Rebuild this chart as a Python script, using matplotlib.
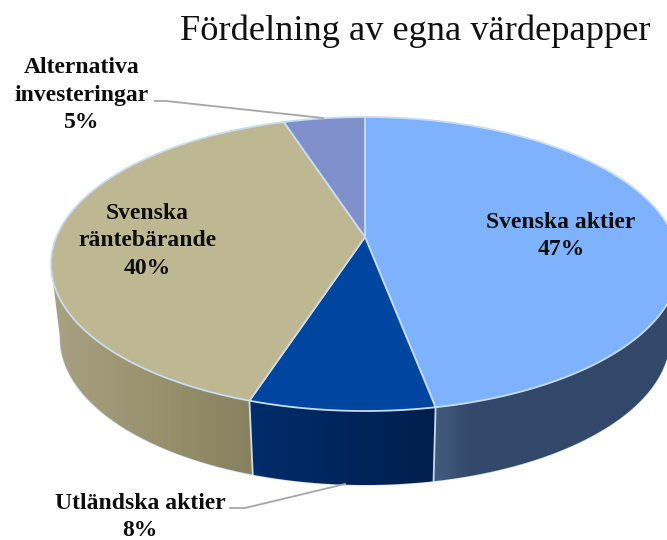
import matplotlib
matplotlib.use('Agg')
import matplotlib.pyplot as plt
import numpy as np
from matplotlib.colors import LinearSegmentedColormap

plt.rcParams['font.family'] = ['Liberation Serif', 'DejaVu Serif']

title = 'Fördelning av egna värdepapper'
labels = ['Svenska aktier\n47%', 'Utländska aktier\n8%', 'Svenska\nräntebärande\n40%', 'Alternativa\ninvesteringar\n5%']
values = [47, 8, 40, 5]
top_colors = ['#7eb2fc', '#00459f', '#bdb892', '#8090cc']
wall_left = ['#435c7c', '#002d6b', '#a8a282', None]
wall_mid = ['#33486a', '#00255c', '#98926f', None]
wall_right = ['#33486a', '#001f4d', '#87815f', None]
edge = '#c8dcf2'
persp = 0.1837


def project(angle):
    # angle clockwise from 12 o'clock, flat disc seen in perspective
    u, v = np.sin(angle), np.cos(angle)
    w = 1 + persp * v
    return 365 + 308.7 * u / w, (237 - 98.5 * v) / w


def lower(x, y):
    return 365 + 0.971 * (x - 365), y + 74


fig = plt.figure(figsize=(6.67, 5.40), dpi=100)
ax = fig.add_axes([0, 0, 1, 1])

edges = np.radians(np.cumsum([0] + values) * 3.6)

# walls first, only the front part of the rim is seen
for i in range(3):
    a = np.linspace(edges[i], edges[i + 1], 300)
    a = a[np.cos(a) < -persp]
    x, y = project(a)
    xb, yb = lower(x, y)
    ax.plot(xb, yb, color=edge, lw=1.0, zorder=1)
    px = np.r_[x, xb[::-1]]
    py = np.r_[y, yb[::-1]]
    patch = ax.fill(px, py, facecolor='none', lw=0, zorder=2)[0]
    cmap = LinearSegmentedColormap.from_list('w', [(0, wall_left[i]), (0.15 if i == 0 else 0.5, wall_mid[i]), (1, wall_right[i])])
    im = ax.imshow(np.linspace(0, 1, 256)[None, :], cmap=cmap, aspect='auto', zorder=2,
                   extent=[px.min(), px.max(), py.max(), py.min()])
    im.set_clip_path(patch)

# seams on the front wall
for a in edges[1:3]:
    x, y = project(a)
    xb, yb = lower(x, y)
    ax.plot([x, xb], [y, yb], color=edge, lw=1.3, zorder=3)

# top faces
for i in range(4):
    a = np.linspace(edges[i], edges[i + 1], 200)
    x, y = project(a)
    ax.fill(np.r_[365, x], np.r_[237, y], facecolor=top_colors[i], edgecolor=edge, lw=1.3,
            joinstyle='round', zorder=4)

# leader lines
ax.plot([155, 166, 323], [101, 101, 118], color='#a6a6a6', lw=1.3, zorder=5)
ax.plot([230, 245, 345], [508, 508, 484], color='#a6a6a6', lw=1.3, zorder=5)

ax.text(415, 31, title, ha='center', va='center', fontsize=26.2, color='#111111', zorder=6)
label_pos = [(561, 236), (140, 517), (147, 241), (82, 95)]
for text, (tx, ty) in zip(labels, label_pos):
    ax.text(tx, ty, text, ha='center', va='center', fontsize=17, fontweight='bold',
            color='#0d0d0d', linespacing=1.4, zorder=6)

ax.set_xlim(0, 667)
ax.set_ylim(540, 0)
ax.axis('off')
fig.savefig('out.png', dpi=100)
